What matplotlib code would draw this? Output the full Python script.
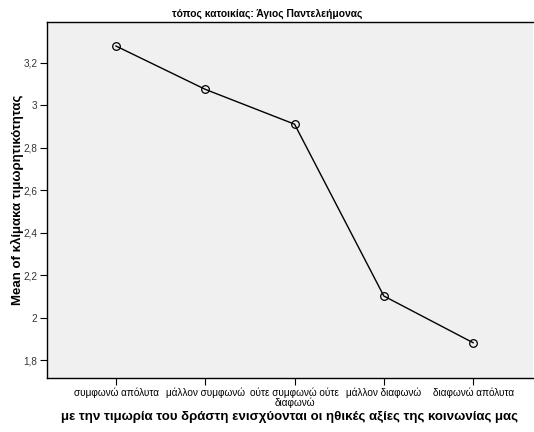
import matplotlib.pyplot as plt

# mean punitiveness score per agreement level
categories = ['συμφωνώ απόλυτα', 'μάλλον συμφωνώ', 'ούτε συμφωνώ ούτε\nδιαφωνώ',
              'μάλλον διαφωνώ', 'διαφωνώ απόλυτα']
means = [3.279, 3.075, 2.911, 2.102, 1.882]
yticks = [1.8, 2.0, 2.2, 2.4, 2.6, 2.8, 3.0, 3.2]
ytick_labels = ['1,8', '2', '2,2', '2,4', '2,6', '2,8', '3', '3,2']

plt.rcParams['font.family'] = ['Liberation Sans', 'DejaVu Sans']

fig = plt.figure(figsize=(5.34, 4.32), dpi=100)
ax = fig.add_axes([0.088, 0.125, 0.91, 0.824])
ax.set_facecolor('#f0f0f0')

x = list(range(len(categories)))
ax.plot(x, means, color='black', linewidth=1.0, marker='o', markersize=5.5,
        markerfacecolor='none', markeredgecolor='black', markeredgewidth=0.9)

ax.set_xlim(-0.773, 4.67)
ax.set_ylim(1.716, 3.392)
ax.set_xticks(x)
ax.set_xticklabels(categories, fontsize=7.2, linespacing=0.9)
ax.set_yticks(yticks)
ax.set_yticklabels(ytick_labels, fontsize=7.2, color='#333333')
ax.tick_params(axis='both', direction='out', length=5, width=0.8, pad=2)

for side in ['left', 'bottom', 'top']:
    ax.spines[side].set_linewidth(1.0)
    ax.spines[side].set_color('black')
ax.spines['right'].set_visible(False)

fig.text(0.5, 0.968, 'τόπος κατοικίας: Άγιος Παντελεήμονας', fontsize=7.4,
         fontweight='bold', ha='center', va='center')
ax.set_ylabel('Mean of κλίμακα τιμωρητικότητας', fontsize=9.5, fontweight='bold')
ax.yaxis.set_label_coords(-0.048, 0.5)
ax.set_xlabel('με την τιμωρία του δράστη ενισχύονται οι ηθικές αξίες της κοινωνίας μας',
              fontsize=9.5, fontweight='bold', va='center')
ax.xaxis.set_label_coords(0.5, -0.11)

fig.savefig('out.png', dpi=100)
